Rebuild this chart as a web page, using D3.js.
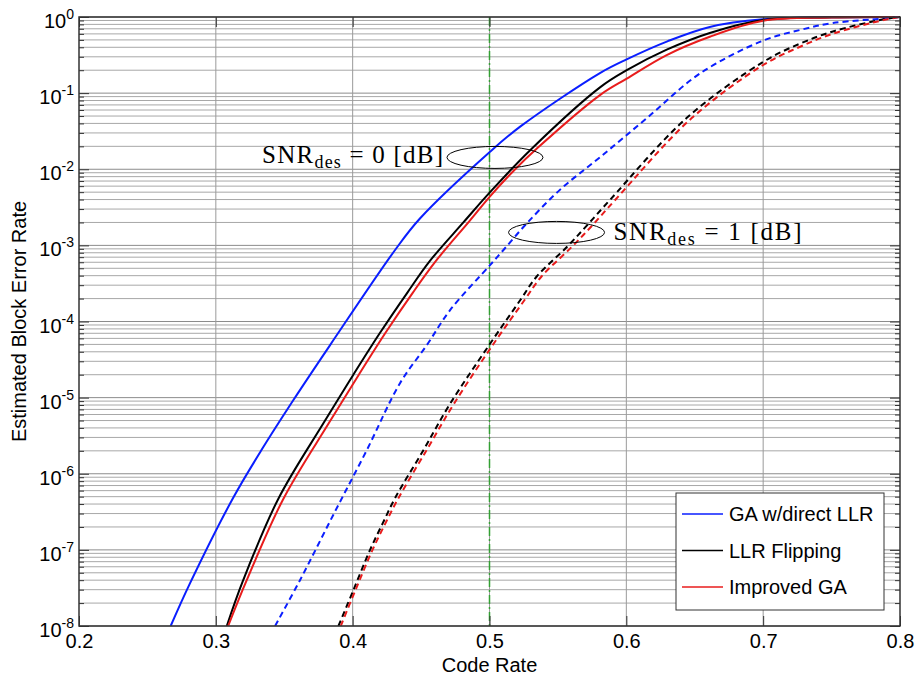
<!DOCTYPE html>
<html>
<head>
<meta charset="utf-8">
<script src="https://cdn.jsdelivr.net/npm/d3@7"></script>
<style>
body { margin: 0; background: #fff; }
svg { display: block; font-family: "Liberation Sans", Arial, sans-serif; }
</style>
</head>
<body>
<script>
// axis ticks
var rateTicks = [0.2, 0.3, 0.4, 0.5, 0.6, 0.7, 0.8];
var decadeTicks = [1e-8, 1e-7, 1e-6, 1e-5, 1e-4, 1e-3, 1e-2, 1e-1, 1];
var decadeExp = ["-8", "-7", "-6", "-5", "-4", "-3", "-2", "-1", "0"];

var legendNames = ["GA w/direct LLR", "LLR Flipping", "Improved GA"];

// [code rate, BLER], SNR_des = 0 dB (solid)
var gaDirect0 = [[0.267,1e-8],[0.281,3.6e-8],[0.3126,4.8e-7],[0.3347,2.24e-6],
  [0.3567,9.3e-6],[0.3835,4.9e-5],[0.431,8.7e-4],[0.449,2.24e-3],[0.5004,1.7e-2],[0.5224,3.63e-2],
  [0.581,0.185],[0.6006,0.28],[0.63,0.479],[0.661,0.741],[0.70,0.933],[0.75,0.99],[0.8,1.0]];
var llrFlip0 = [[0.308,1e-8],[0.320,4.0e-8],[0.3457,4.7e-7],[0.3786,4.6e-6],[0.4005,2.0e-5],
  [0.42,7.1e-5],[0.44,2.4e-4],[0.4566,6.3e-4],[0.4809,2.0e-3],[0.5004,5.0e-3],[0.5297,1.78e-2],
  [0.581,0.12],[0.6003,0.2],[0.6295,0.372],[0.661,0.617],[0.70,0.912],[0.75,0.99],[0.8,1.0]];
var improvedGa0 = [[0.309,1e-8],[0.3226,4.0e-8],[0.3494,4.7e-7],[0.3825,4.6e-6],[0.4045,2.0e-5],
  [0.424,7.1e-5],[0.444,2.4e-4],[0.461,6.3e-4],[0.4855,2.1e-3],[0.5004,4.4e-3],[0.5175,9.5e-3],
  [0.535,1.9e-2],[0.581,9.5e-2],[0.6003,0.155],[0.6295,0.316],[0.661,0.55],[0.70,0.891],
  [0.75,0.982],[0.8,1.0]];

// SNR_des = 1 dB (dashed)
var gaDirect1 = [[0.3433,1e-8],[0.3615,4.0e-8],[0.3859,2.9e-7],[0.4103,2.04e-6],[0.4346,1.55e-5],
  [0.4542,4.9e-5],[0.4712,1.41e-4],[0.5004,5.5e-4],[0.5102,8.7e-4],[0.5273,1.95e-3],
  [0.5516,5.4e-3],[0.581,1.45e-2],[0.615,4.7e-2],[0.654,0.182],[0.70,0.49],[0.727,0.676],
  [0.751,0.832],[0.788,0.955],[0.8,1.0]];
var llrFlip1 = [[0.3896,1e-8],[0.4005,2.95e-8],[0.4127,1e-7],[0.4225,2.34e-7],[0.431,4.8e-7],
  [0.4517,2.04e-6],[0.4712,8.3e-6],[0.5004,5.1e-5],[0.5224,1.9e-4],[0.5345,3.9e-4],[0.5565,9.5e-4],
  [0.5711,1.82e-3],[0.5882,3.98e-3],[0.644,4.7e-2],[0.70,0.257],[0.727,0.447],[0.751,0.646],
  [0.788,0.933],[0.8,1.0]];
var improvedGa1 = [[0.3913,1e-8],[0.402,2.95e-8],[0.4145,1e-7],[0.4245,2.34e-7],[0.4335,4.8e-7],
  [0.454,2.04e-6],[0.474,8.3e-6],[0.503,5.1e-5],[0.5255,1.9e-4],[0.538,3.9e-4],[0.560,9.5e-4],
  [0.575,1.82e-3],[0.592,3.98e-3],[0.6478,4.7e-2],[0.70,0.234],[0.727,0.407],[0.751,0.603],
  [0.788,0.912],[0.8,1.0]];

var designRate = 0.5;

var W = 915, H = 678;
var pL = 79, pR = 900, pT = 17, pB = 626;
var colors = ["#0a1eff", "#000000", "#e81c1c"];

var svg = d3.select("body").append("svg").attr("width", W).attr("height", H);

var x = d3.scaleLinear().domain([0.2, 0.8]).range([pL, pR]);
var y = d3.scaleLog().domain([1e-8, 1]).range([pB, pT]);

var minorTicks = [];
decadeTicks.slice(0, -1).forEach(function(d) {
    for (var k = 2; k <= 9; k++) minorTicks.push(d * k);
});

// grid
var grid = svg.append("g");
grid.selectAll(".hm").data(minorTicks).enter().append("line")
    .attr("x1", pL).attr("x2", pR)
    .attr("y1", d => y(d)).attr("y2", d => y(d))
    .attr("stroke", "#a8a8a8").attr("stroke-width", 1);
grid.selectAll(".hM").data(decadeTicks).enter().append("line")
    .attr("x1", pL).attr("x2", pR)
    .attr("y1", d => y(d)).attr("y2", d => y(d))
    .attr("stroke", "#8c8c8c").attr("stroke-width", 1);
grid.selectAll(".v").data(rateTicks.slice(1, -1)).enter().append("line")
    .attr("x1", d => x(d)).attr("x2", d => x(d))
    .attr("y1", pT).attr("y2", pB)
    .attr("stroke", "#9a9a9a").attr("stroke-width", 1);

// curves
svg.append("clipPath").attr("id", "plotclip").append("rect")
    .attr("x", pL).attr("y", pT - 2).attr("width", pR - pL).attr("height", pB - pT + 2);

var line = d3.line().x(d => x(d[0])).y(d => y(d[1])).curve(d3.curveCatmullRom.alpha(0.5));
var plot = svg.append("g").attr("clip-path", "url(#plotclip)");

plot.append("line")
    .attr("x1", x(designRate)).attr("x2", x(designRate))
    .attr("y1", pT).attr("y2", pB)
    .attr("stroke", "#33a033").attr("stroke-width", 1.5)
    .attr("stroke-dasharray", "9,3,2,3");

var curves = [
    {data: gaDirect0, c: 0, dash: null},
    {data: llrFlip0, c: 1, dash: null},
    {data: improvedGa0, c: 2, dash: null},
    {data: gaDirect1, c: 0, dash: "6,4"},
    {data: llrFlip1, c: 1, dash: "6,4"},
    {data: improvedGa1, c: 2, dash: "6,4"}
];
curves.forEach(function(s) {
    plot.append("path").datum(s.data)
        .attr("d", line)
        .attr("fill", "none")
        .attr("stroke", colors[s.c])
        .attr("stroke-width", 2)
        .attr("stroke-dasharray", s.dash);
});

// axes
var xAxis = d3.axisBottom(x).tickValues(rateTicks).tickSizeInner(-10).tickSizeOuter(0).tickPadding(8)
    .tickFormat(d3.format(".1f"));
var gx = svg.append("g").attr("transform", "translate(0," + pB + ")").call(xAxis);
gx.select(".domain").remove();
gx.selectAll(".tick line").attr("stroke", "#333");
gx.selectAll(".tick text").attr("font-size", 20).attr("fill", "#000")
    .attr("font-family", "Liberation Sans, Arial, sans-serif");

var gxTop = svg.append("g").attr("transform", "translate(0," + pT + ")")
    .call(d3.axisTop(x).tickValues(rateTicks).tickSizeInner(-10).tickSizeOuter(0).tickFormat(""));
gxTop.select(".domain").remove();
gxTop.selectAll(".tick line").attr("stroke", "#333");

function yTicks(gen, sign) {
    var g = svg.append("g").call(gen.tickValues(minorTicks.concat(decadeTicks)).tickSizeOuter(0).tickFormat(""));
    g.select(".domain").remove();
    g.selectAll(".tick line")
        .attr("stroke", "#333")
        .attr("x2", d => sign * (decadeTicks.indexOf(d) >= 0 ? 10 : 5));
    return g;
}
yTicks(d3.axisLeft(y), 1).attr("transform", "translate(" + pL + ",0)");
yTicks(d3.axisRight(y), -1).attr("transform", "translate(" + pR + ",0)");

var ylab = svg.append("g").selectAll("text").data(decadeTicks).enter().append("text")
    .attr("x", pL - 5).attr("y", d => y(d) + 11)
    .attr("text-anchor", "end").attr("font-size", 20).attr("fill", "#000");
ylab.append("tspan").text("10");
ylab.append("tspan").attr("font-size", 14).attr("dy", -9).text((d, i) => decadeExp[i]);

// box
svg.append("rect").attr("x", pL).attr("y", pT).attr("width", pR - pL).attr("height", pB - pT)
    .attr("fill", "none").attr("stroke", "#333").attr("stroke-width", 1.5);

// axis titles
svg.append("text").attr("x", (pL + pR) / 2).attr("y", 672).attr("text-anchor", "middle")
    .attr("font-size", 20).text("Code Rate");
svg.append("text").attr("transform", "translate(26," + ((pT + pB) / 2) + ") rotate(-90)")
    .attr("text-anchor", "middle").attr("font-size", 20).text("Estimated Block Error Rate");

// annotations
var notes = [
    {snr: "0", tx: 0.3338, ty: 1.2e-2, ex: 0.504, ey: 1.43e-2, width: 181},
    {snr: "1", tx: 0.5906, ty: 1.17e-3, ex: 0.549, ey: 1.48e-3, width: 188}
];
notes.forEach(function(n) {
    svg.append("ellipse").attr("cx", x(n.ex)).attr("cy", y(n.ey)).attr("rx", 48).attr("ry", 11)
        .attr("fill", "none").attr("stroke", "#000").attr("stroke-width", 1);
    var t = svg.append("text").attr("x", x(n.tx)).attr("y", y(n.ty))
        .attr("font-family", "Liberation Serif, Times New Roman, serif").attr("font-size", 25)
        .attr("textLength", n.width).attr("lengthAdjust", "spacing");
    t.append("tspan").text("SNR");
    t.append("tspan").attr("font-size", 18).attr("dy", 5).text("des");
    t.append("tspan").attr("dy", -5).text(" = " + n.snr + " [dB]");
});

// legend
var lg = svg.append("g").attr("transform", "translate(676,493)");
lg.append("rect").attr("width", 208).attr("height", 117).attr("fill", "#fff")
    .attr("stroke", "#333").attr("stroke-width", 1);
legendNames.forEach(function(name, i) {
    var yy = 21 + i * 36.5;
    lg.append("line").attr("x1", 6).attr("x2", 47).attr("y1", yy).attr("y2", yy)
        .attr("stroke", colors[i]).attr("stroke-width", 1.5);
    lg.append("text").attr("x", 53).attr("y", yy + 7).attr("font-size", 20).text(name);
});
</script>
</body>
</html>
